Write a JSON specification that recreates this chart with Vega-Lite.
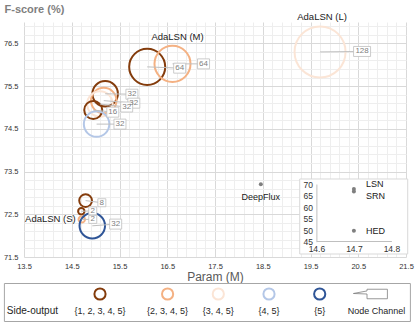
{
  "$schema": "https://vega.github.io/schema/vega-lite/v6.json",
  "padding": {"left": 3, "right": 3, "top": 3, "bottom": 3},
  "config": {"font": "Liberation Sans", "view": {"stroke": null}},
  "datasets": {
    "bubbles": [
      {"so": "{1, 2, 3, 4, 5}", "ch": 64, "param": 16.08, "f": 75.95, "lx": 16.76, "ly": 75.92},
      {"so": "{2, 3, 4, 5}", "ch": 64, "param": 16.61, "f": 76.02, "lx": 17.26, "ly": 76.02, "tag": "AdaLSN (M)"},
      {"so": "{3, 4, 5}", "ch": 128, "param": 19.7, "f": 76.3, "lx": 20.58, "ly": 76.31, "tag": "AdaLSN (L)"},
      {"so": "{1, 2, 3, 4, 5}", "ch": 32, "param": 15.2, "f": 75.32, "lx": 15.76, "ly": 75.31},
      {"so": "{2, 3, 4, 5}", "ch": 32, "param": 15.17, "f": 75.16, "lx": 15.8, "ly": 75.1},
      {"so": "{3, 4, 5}", "ch": 32, "param": 15.09, "f": 75.08, "lx": 15.65, "ly": 75.01},
      {"so": "{1, 2, 3, 4, 5}", "ch": 16, "param": 14.95, "f": 74.94, "lx": 15.36, "ly": 74.89},
      {"so": "{4, 5}", "ch": 32, "param": 15.02, "f": 74.61, "lx": 15.51, "ly": 74.61},
      {"so": "{1, 2, 3, 4, 5}", "ch": 8, "param": 14.79, "f": 72.82, "lx": 15.13, "ly": 72.77},
      {"so": "{1, 2, 3, 4, 5}", "ch": 2, "param": 14.7, "f": 72.57, "lx": 14.94, "ly": 72.58},
      {"so": "{2, 3, 4, 5}", "ch": 2, "param": 14.71, "f": 72.38, "lx": 14.94, "ly": 72.38, "tag": "AdaLSN (S)"},
      {"so": "{5}", "ch": 32, "param": 14.93, "f": 72.23, "lx": 15.42, "ly": 72.27}
    ],
    "others": [{"model": "DeepFlux", "param": 18.46, "f": 73.2}],
    "inset": [
      {"model": "LSN", "param": 14.7, "f": 67.8},
      {"model": "SRN", "param": 14.7, "f": 66.8},
      {"model": "HED", "param": 14.7, "f": 49.7}
    ],
    "legend": [
      {"item": "Side-output", "kind": "title"},
      {"item": "{1, 2, 3, 4, 5}", "kind": "so"},
      {"item": "{2, 3, 4, 5}", "kind": "so"},
      {"item": "{3, 4, 5}", "kind": "so"},
      {"item": "{4, 5}", "kind": "so"},
      {"item": "{5}", "kind": "so"},
      {"item": "Node Channel", "kind": "nc"}
    ]
  },
  "columns": 1,
  "spacing": 0,
  "resolve": {"scale": {"x": "independent", "y": "independent", "stroke": "independent"}},
  "concat": [
    {
      "width": 382,
      "height": 235,
      "view": {"stroke": null},
      "resolve": {"scale": {"x": "independent", "y": "independent"}},
      "layer": [
        {
          "data": {"name": "others"},
          "mark": {"type": "point", "opacity": 0},
          "encoding": {
            "x": {
              "field": "param", "type": "quantitative",
              "scale": {"domain": [13.5, 21.5], "nice": false, "zero": false},
              "axis": {"orient": "bottom", "values": [13.7,13.9,14.1,14.3,14.7,14.9,15.1,15.3,15.7,15.9,16.1,16.3,16.7,16.9,17.1,17.3,17.7,17.9,18.1,18.3,18.7,18.9,19.1,19.3,19.7,19.9,20.1,20.3,20.7,20.9,21.1,21.3], "grid": true, "gridColor": "#eeeeee", "labels": false, "ticks": false, "domain": false, "title": null}
            },
            "y": {
              "field": "f", "type": "quantitative",
              "scale": {"domain": [71.5, 77], "nice": false, "zero": false},
              "axis": {"orient": "left", "values": [71.7,71.9,72.1,72.3,72.7,72.9,73.1,73.3,73.7,73.9,74.1,74.3,74.7,74.9,75.1,75.3,75.7,75.9,76.1,76.3,76.7,76.9], "grid": true, "gridColor": "#eeeeee", "labels": false, "ticks": false, "domain": false, "title": null}
            }
          }
        },
        {
          "data": {"name": "bubbles"},
          "layer": [
            {
              "mark": {"type": "point", "shape": "circle", "filled": false, "strokeWidth": 2, "opacity": 1},
              "encoding": {
                "x": {
                  "field": "param", "type": "quantitative",
                  "scale": {"domain": [13.5, 21.5], "nice": false, "zero": false},
                  "axis": {
                    "orient": "bottom",
                    "title": "Param (M)",
                    "values": [13.5, 14.5, 15.5, 16.5, 17.5, 18.5, 19.5, 20.5, 21.5],
                    "format": ".1f",
                    "grid": true, "gridColor": "#d9d9d9",
                    "domain": false, "ticks": false, "tickSize": 0,
                    "labelFontSize": 7.5, "labelColor": "#333333", "labelPadding": 5,
                    "labelOverlap": false, "labelFlush": false,
                    "titleFontSize": 12, "titleColor": "#595959", "titleFontWeight": "normal", "titlePadding": 2
                  }
                },
                "y": {
                  "field": "f", "type": "quantitative",
                  "scale": {"domain": [71.5, 77], "nice": false, "zero": false},
                  "axis": {
                    "orient": "left",
                    "title": "F-score (%)",
                    "values": [71.5, 72.5, 73.5, 74.5, 75.5, 76.5],
                    "format": ".1f",
                    "grid": true, "gridColor": "#d9d9d9",
                    "domain": false, "ticks": false, "tickSize": 0,
                    "labelFontSize": 7.5, "labelColor": "#333333", "labelPadding": 6,
                    "labelOverlap": false, "labelFlush": false,
                    "titleAngle": 0, "titleAlign": "left", "titleBaseline": "middle",
                    "titleX": -20, "titleY": -13,
                    "titleFontSize": 11, "titleFontWeight": "bold", "titleColor": "#7f7f7f"
                  }
                },
                "size": {"field": "ch", "type": "quantitative", "scale": {"domain": [0, 128], "range": [0, 2600]}, "legend": null},
                "stroke": {
                  "field": "so", "type": "nominal",
                  "scale": {"domain": ["{1, 2, 3, 4, 5}", "{2, 3, 4, 5}", "{3, 4, 5}", "{4, 5}", "{5}"], "range": ["#843C0C", "#F4B183", "#FBE5D6", "#B4C7E7", "#2F5597"]},
                  "legend": null
                }
              }
            },
            {
              "mark": {"type": "rule", "stroke": "#bfbfbf", "strokeWidth": 1},
              "encoding": {
                "x": {"field": "param", "type": "quantitative"},
                "y": {"field": "f", "type": "quantitative"},
                "x2": {"field": "lx"},
                "y2": {"field": "ly"}
              }
            },
            {
              "mark": {"type": "point", "filled": true, "fill": "white", "stroke": "#bfbfbf", "strokeWidth": 0.8, "size": 100, "opacity": 1},
              "encoding": {
                "x": {"field": "lx", "type": "quantitative"},
                "y": {"field": "ly", "type": "quantitative"},
                "shape": {
                  "field": "ch", "type": "nominal",
                  "scale": {"domain": [2, 8, 16, 32, 64, 128], "range": ["M-0.8,-0.8L0.8,-0.8L0.8,0.8L-0.8,0.8Z", "M-0.8,-0.8L0.8,-0.8L0.8,0.8L-0.8,0.8Z", "M-1.2,-1L1.2,-1L1.2,1L-1.2,1Z", "M-1.2,-1L1.2,-1L1.2,1L-1.2,1Z", "M-1.2,-1L1.2,-1L1.2,1L-1.2,1Z", "M-1.7,-1L1.7,-1L1.7,1L-1.7,1Z"]},
                  "legend": null
                }
              }
            },
            {
              "mark": {"type": "text", "fontSize": 8, "color": "#808080"},
              "encoding": {
                "x": {"field": "lx", "type": "quantitative"},
                "y": {"field": "ly", "type": "quantitative"},
                "text": {"field": "ch", "type": "quantitative", "format": "d"}
              }
            },
            {
              "transform": [{"filter": "datum.tag == 'AdaLSN (M)'"}],
              "mark": {"type": "text", "dx": 5, "dy": -27, "fontSize": 9.5, "color": "#1a1a1a"},
              "encoding": {
                "x": {"field": "param", "type": "quantitative"},
                "y": {"field": "f", "type": "quantitative"},
                "text": {"field": "tag"}
              }
            },
            {
              "transform": [{"filter": "datum.tag == 'AdaLSN (L)'"}],
              "mark": {"type": "text", "dx": 2, "dy": -35, "fontSize": 9.5, "color": "#1a1a1a"},
              "encoding": {
                "x": {"field": "param", "type": "quantitative"},
                "y": {"field": "f", "type": "quantitative"},
                "text": {"field": "tag"}
              }
            },
            {
              "transform": [{"filter": "datum.tag == 'AdaLSN (S)'"}],
              "mark": {"type": "text", "dx": -6, "dy": 0, "align": "right", "fontSize": 9.5, "color": "#1a1a1a"},
              "encoding": {
                "x": {"field": "param", "type": "quantitative"},
                "y": {"field": "f", "type": "quantitative"},
                "text": {"field": "tag"}
              }
            },
            {
              "data": {"name": "others"},
              "mark": {"type": "point", "shape": "circle", "filled": true, "color": "#7f7f7f", "size": 16, "opacity": 1},
              "encoding": {
                "x": {"field": "param", "type": "quantitative"},
                "y": {"field": "f", "type": "quantitative"}
              }
            },
            {
              "data": {"name": "others"},
              "mark": {"type": "text", "dy": 13, "fontSize": 9, "color": "#1a1a1a"},
              "encoding": {
                "x": {"field": "param", "type": "quantitative"},
                "y": {"field": "f", "type": "quantitative"},
                "text": {"field": "model"}
              }
            }
          ]
        },
        {
          "layer": [
            {
              "data": {"values": [{}]},
              "mark": {"type": "rect", "fill": "white", "stroke": "#d9d9d9", "strokeWidth": 1},
              "encoding": {
                "x": {
                  "datum": 14.5555, "type": "quantitative",
                  "scale": {"domain": [14.6, 14.8], "range": [292.4, 367.4], "nice": false, "zero": false},
                  "axis": {"orient": "bottom", "offset": -16, "zindex": 1, "values": [14.6, 14.7, 14.8], "format": ".1f", "grid": false, "ticks": false, "domainColor": "#bfbfbf", "labelFontSize": 8.5, "labelColor": "#333333", "labelPadding": 3, "labelFlush": false, "labelOverlap": false, "title": null}
                },
                "x2": {"datum": 14.8435},
                "y": {
                  "datum": 39.67, "type": "quantitative",
                  "scale": {"domain": [45, 70], "range": [219.7, 162], "nice": false, "zero": false},
                  "axis": {"orient": "left", "offset": -292.4, "zindex": 1, "values": [45, 50, 55, 60, 65, 70], "grid": false, "ticks": false, "domainColor": "#bfbfbf", "labelFontSize": 8.5, "labelColor": "#333333", "labelPadding": 4, "labelOverlap": false, "title": null}
                },
                "y2": {"datum": 72.17}
              }
            },
            {
              "data": {"name": "inset"},
              "mark": {"type": "point", "shape": "circle", "filled": true, "color": "#7f7f7f", "size": 16, "opacity": 1},
              "encoding": {
                "x": {"field": "param", "type": "quantitative"},
                "y": {"field": "f", "type": "quantitative"}
              }
            },
            {
              "data": {"name": "inset"},
              "transform": [{"filter": "datum.model == 'LSN'"}],
              "mark": {"type": "text", "align": "left", "dx": 12, "dy": -5, "fontSize": 9, "color": "#1a1a1a"},
              "encoding": {
                "x": {"field": "param", "type": "quantitative"},
                "y": {"field": "f", "type": "quantitative"},
                "text": {"field": "model"}
              }
            },
            {
              "data": {"name": "inset"},
              "transform": [{"filter": "datum.model == 'SRN'"}],
              "mark": {"type": "text", "align": "left", "dx": 12, "dy": 5, "fontSize": 9, "color": "#1a1a1a"},
              "encoding": {
                "x": {"field": "param", "type": "quantitative"},
                "y": {"field": "f", "type": "quantitative"},
                "text": {"field": "model"}
              }
            },
            {
              "data": {"name": "inset"},
              "transform": [{"filter": "datum.model == 'HED'"}],
              "mark": {"type": "text", "align": "left", "dx": 12, "dy": 0, "fontSize": 9, "color": "#1a1a1a"},
              "encoding": {
                "x": {"field": "param", "type": "quantitative"},
                "y": {"field": "f", "type": "quantitative"},
                "text": {"field": "model"}
              }
            }
          ]
        }
      ]
    },
    {
      "width": 386,
      "height": 39,
      "view": {"stroke": null},
      "data": {"name": "legend"},
      "resolve": {"scale": {"x": "independent", "y": "independent"}},
      "layer": [
        {
          "data": {"values": [{}]},
          "mark": {"type": "rect", "fill": "white", "fillOpacity": 0, "stroke": "#a6a6a6", "strokeWidth": 1},
          "encoding": {
            "x": {"datum": 0, "type": "quantitative", "scale": {"domain": [0, 1], "range": [-19.6, 386.4]}, "axis": null},
            "x2": {"datum": 1},
            "y": {"datum": 0, "type": "quantitative", "scale": {"domain": [0, 1], "range": [0.5, 38.5]}, "axis": null},
            "y2": {"datum": 1}
          }
        },
        {
          "encoding": {
            "x": {
              "field": "item", "type": "nominal",
              "scale": {"type": "point", "padding": 0, "range": [8.4, 346.4],
                "domain": ["Side-output", "s1", "s2", "s3", "{1, 2, 3, 4, 5}", "s4", "s5", "s6", "{2, 3, 4, 5}", "s7", "s8", "{3, 4, 5}", "s9", "s10", "{4, 5}", "s11", "s12", "{5}", "s13", "s14", "Node Channel"]},
              "axis": null
            }
          },
          "layer": [
            {
              "transform": [{"filter": "datum.kind == 'so'"}],
              "mark": {"type": "point", "shape": "circle", "filled": false, "strokeWidth": 2, "size": 125, "opacity": 1},
              "encoding": {
                "y": {"datum": "sym", "type": "nominal", "scale": {"type": "point", "domain": ["sym", "lab"], "range": [11, 28], "padding": 0}, "axis": null},
                "stroke": {
                  "field": "item", "type": "nominal",
                  "scale": {"domain": ["{1, 2, 3, 4, 5}", "{2, 3, 4, 5}", "{3, 4, 5}", "{4, 5}", "{5}"], "range": ["#843C0C", "#F4B183", "#FBE5D6", "#B4C7E7", "#2F5597"]},
                  "legend": null
                }
              }
            },
            {
              "transform": [{"filter": "datum.kind == 'nc'"}],
              "mark": {"type": "point", "shape": "M-1,-0.03L-0.2,-0.18L-0.2,-0.28L1,-0.28L1,0.28L-0.2,0.28L-0.2,0Z", "filled": true, "fill": "white", "stroke": "#7f7f7f", "strokeWidth": 0.8, "size": 1156, "opacity": 1},
              "encoding": {
                "y": {"datum": "sym", "type": "nominal"}
              }
            },
            {
              "transform": [{"filter": "datum.kind == 'so'"}],
              "mark": {"type": "text", "fontSize": 9, "color": "#262626"},
              "encoding": {
                "y": {"datum": "lab", "type": "nominal"},
                "text": {"field": "item"}
              }
            },
            {
              "transform": [{"filter": "datum.kind == 'title'"}],
              "mark": {"type": "text", "fontSize": 10, "color": "#262626"},
              "encoding": {
                "y": {"datum": "lab", "type": "nominal"},
                "text": {"field": "item"}
              }
            },
            {
              "transform": [{"filter": "datum.kind == 'nc'"}],
              "mark": {"type": "text", "fontSize": 9, "color": "#262626", "dx": 6},
              "encoding": {
                "y": {"datum": "lab", "type": "nominal"},
                "text": {"field": "item"}
              }
            }
          ]
        }
      ]
    }
  ]
}
